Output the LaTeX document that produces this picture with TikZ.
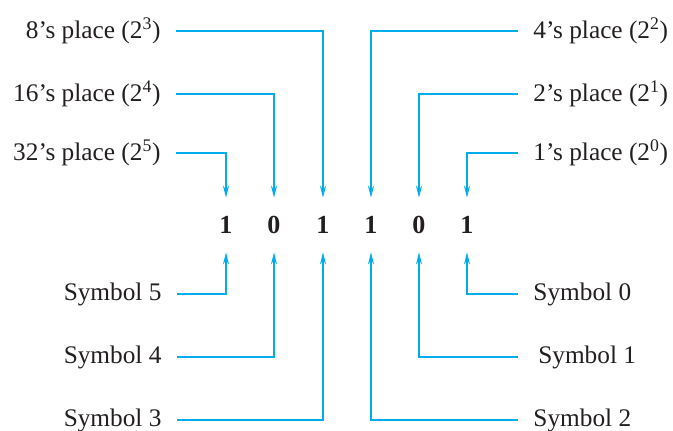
\documentclass[tikz,border=0pt]{standalone}
\usepackage{fontspec}
\setmainfont{Liberation Serif}
\usepackage{xcolor}
\usepackage{tikz}
\usetikzlibrary{arrows.meta}
\definecolor{wire}{RGB}{0,172,236}
\definecolor{ink}{RGB}{35,31,32}

\begin{document}
\begin{tikzpicture}[x=0.025cm, y=-0.025cm,
  lab/.style={font=\fontsize{18}{21}\selectfont, text=ink, inner xsep=0.38cm, inner ysep=0pt},
  dig/.style={font=\fontsize{18.5}{21}\selectfont\bfseries, text=ink, inner sep=0pt, minimum height=1.35cm},
  arr/.style={-{Stealth[length=3mm,width=1.5mm]}, line width=0.9pt, wire},
]
\useasboundingbox (0,0) rectangle (673,430);
% --- the number ---
\node[dig] (d5) at (226,225) {1};
\node[dig] (d4) at (274,225) {0};
\node[dig] (d3) at (323,225) {1};
\node[dig] (d2) at (371,225) {1};
\node[dig] (d1) at (419,225) {0};
\node[dig] (d0) at (467,225) {1};

% --- place values ---
\node[lab, anchor=east] (p3) at (176,31)  {8's place (2\textsuperscript{3})};
\node[lab, anchor=east] (p4) at (176,94)  {16's place (2\textsuperscript{4})};
\node[lab, anchor=east] (p5) at (176,153) {32's place (2\textsuperscript{5})};
\node[lab, anchor=west] (p2) at (518,31)  {4's place (2\textsuperscript{2})};
\node[lab, anchor=west] (p1) at (518,94)  {2's place (2\textsuperscript{1})};
\node[lab, anchor=west] (p0) at (518,153) {1's place (2\textsuperscript{0})};
\foreach \p in {0,...,5} \draw[arr] (p\p) -| (d\p.north);

% --- symbols ---
\node[lab, anchor=east] (s5) at (177,294) {Symbol 5};
\node[lab, anchor=east] (s4) at (177,357) {Symbol 4};
\node[lab, anchor=east] (s3) at (177,420) {Symbol 3};
\node[lab, anchor=west] (s0) at (518,294) {Symbol 0};
\node[lab, anchor=west, inner xsep=0.5cm] (s1) at (518,357) {Symbol 1};
\node[lab, anchor=west] (s2) at (518,420) {Symbol 2};
\foreach \s in {0,...,5} \draw[arr] (s\s) -| (d\s.south);
\end{tikzpicture}
\end{document}
